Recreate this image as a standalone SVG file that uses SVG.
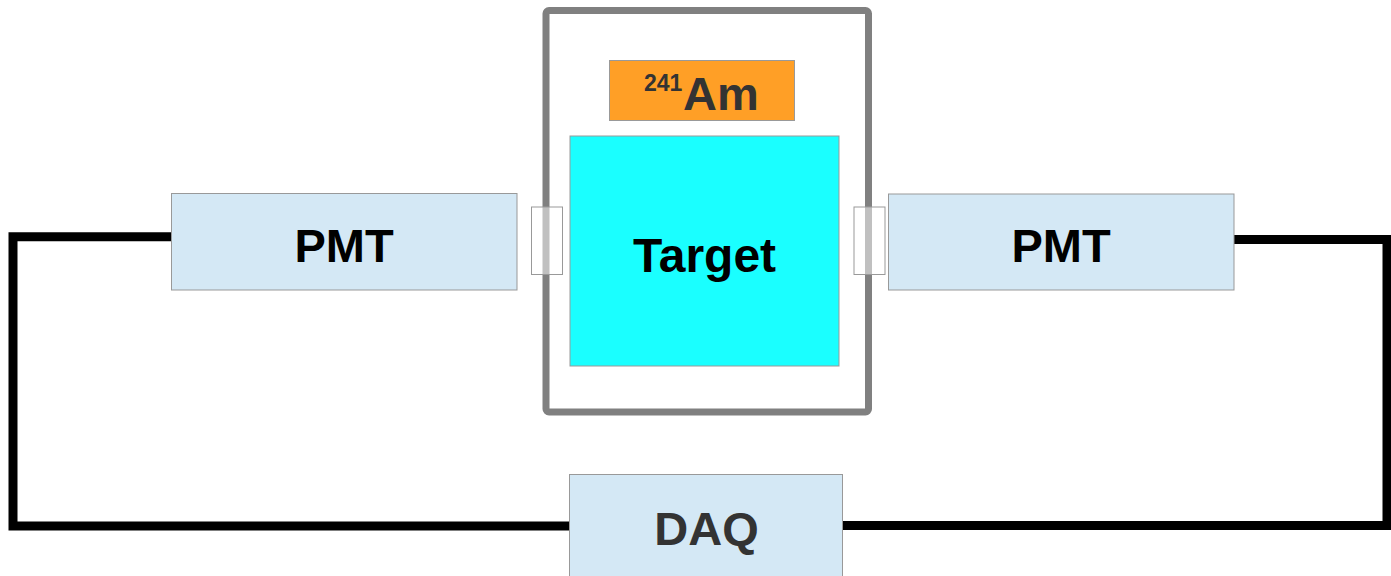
<svg xmlns="http://www.w3.org/2000/svg" width="1391" height="576" viewBox="0 0 1391 576">
<style>
.box{stroke:#999999;stroke-width:1}
.pmt{fill:#D4E8F5}
.lbl{font-family:"Liberation Sans",Arial,sans-serif;font-weight:bold;text-anchor:middle}
.wire{fill:none;stroke:#000000;stroke-width:9;stroke-linejoin:miter}
.win{fill:#ffffff;fill-opacity:0.5;stroke:#999999;stroke-width:1}
</style>
<rect width="1391" height="576" fill="#ffffff"/>
<g id="connectors">
<path class="wire" d="M171 236.7 H13 V526 H570"/>
<path class="wire" d="M1234 239.5 H1387 V525.5 H842"/>
</g>
<g id="chamber">
<rect x="546" y="10.5" width="322.5" height="401.5" rx="3" fill="#ffffff" stroke="#808080" stroke-width="7"/>
</g>
<g id="source">
<rect class="box" x="609.5" y="60.5" width="185" height="60" fill="#FF9F26"/>
<text class="lbl" fill="#333333" style="text-anchor:start"><tspan x="644" y="91" font-size="23">241</tspan><tspan x="683" y="110" font-size="47">Am</tspan></text>
</g>
<g id="target">
<rect class="box" x="570" y="136" width="269" height="230" fill="#1AFFFF"/>
<text class="lbl" x="704.5" y="272" font-size="48" fill="#000000">Target</text>
</g>
<g id="pmt-left">
<rect class="box pmt" x="171.5" y="193.5" width="345.5" height="96.5"/>
<text class="lbl" x="344" y="262" font-size="47" fill="#000000">PMT</text>
</g>
<g id="window-left">
<rect class="win" x="531.5" y="207" width="31" height="67.5"/>
</g>
<g id="window-right">
<rect class="win" x="854" y="207" width="31" height="67.5"/>
</g>
<g id="pmt-right">
<rect class="box pmt" x="888.5" y="194" width="345.5" height="96"/>
<text class="lbl" x="1061" y="262" font-size="47" fill="#000000">PMT</text>
</g>
<g id="daq">
<rect class="box pmt" x="569.5" y="474.5" width="273" height="110"/>
<text class="lbl" x="706.5" y="545" font-size="47" fill="#333333">DAQ</text>
</g>
</svg>
